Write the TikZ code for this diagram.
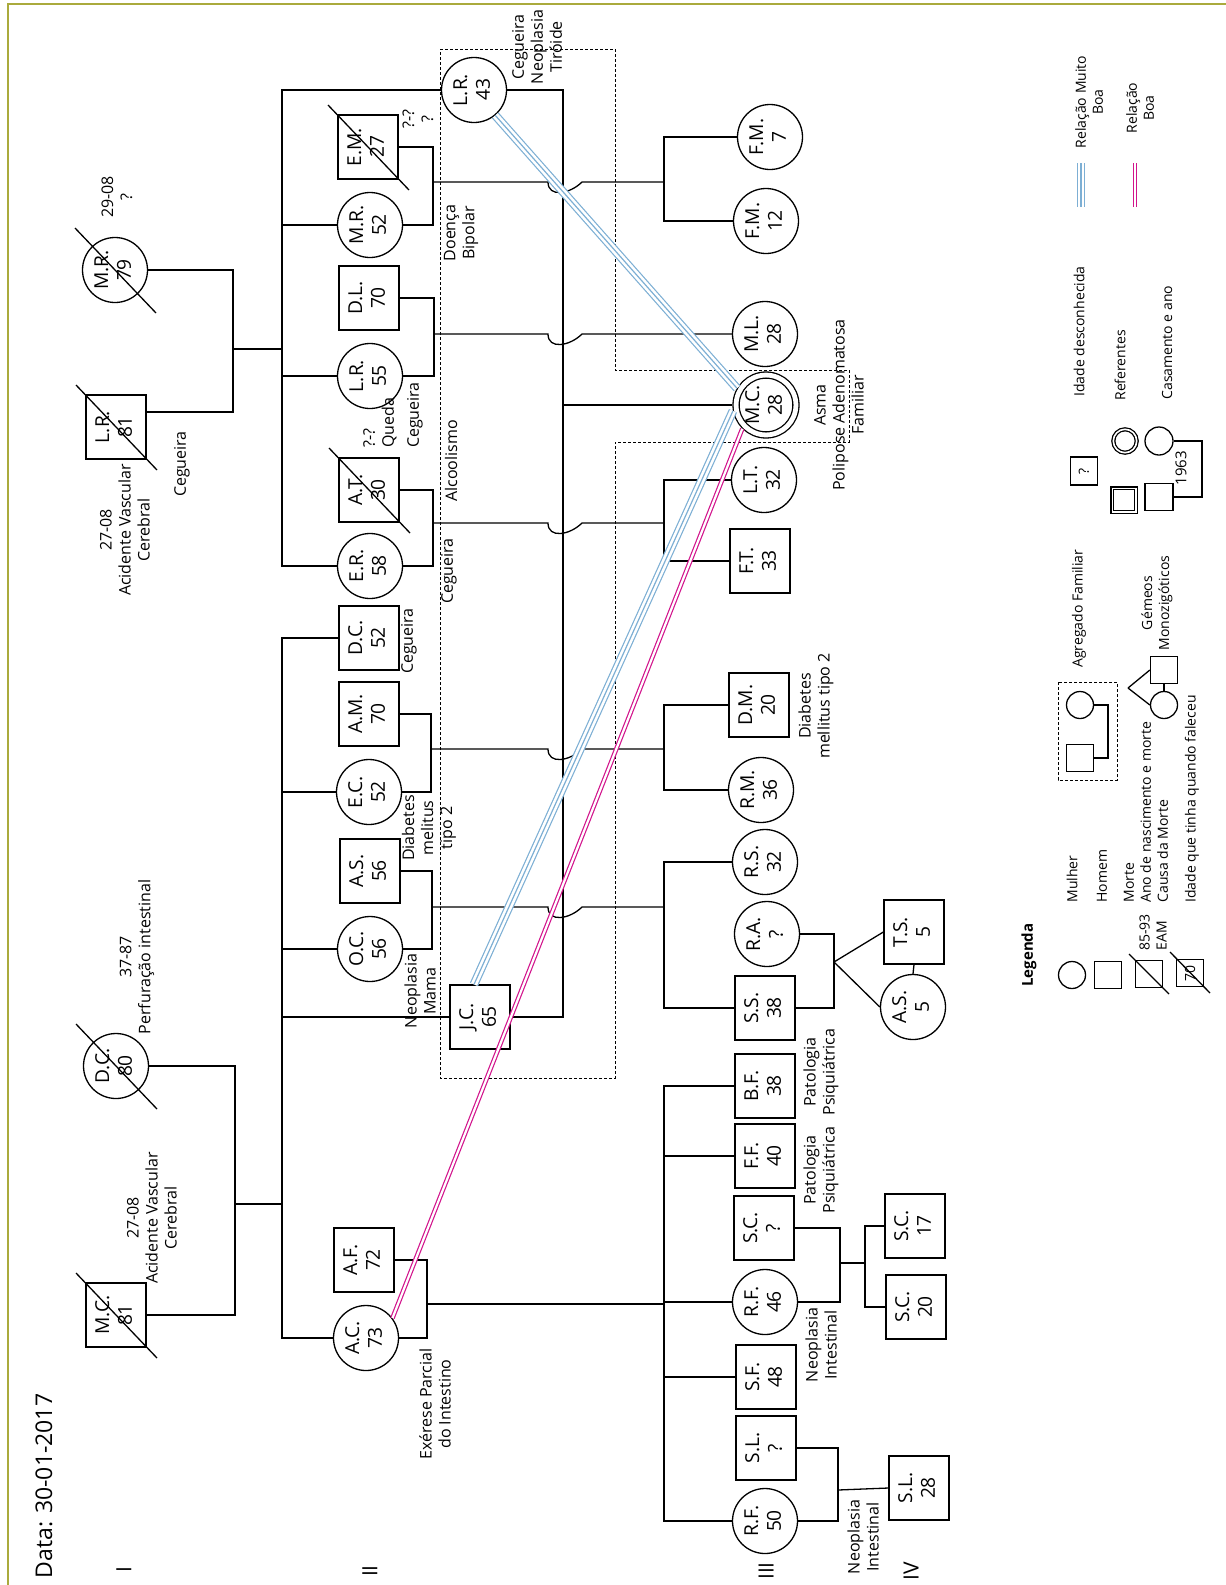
\documentclass[tikz,border=0pt]{standalone}
\usepackage{fontspec}
\setmainfont{Open Sans}
\usepackage{graphicx}
\definecolor{moldura}{RGB}{170,170,60}
\definecolor{azulrel}{RGB}{125,175,212}
\definecolor{rosarel}{RGB}{210,20,140}
\newcommand{\pessoa}[2]{\rotatebox{90}{\begin{tabular}{@{}c@{}}#1\\#2\end{tabular}}}
\newcommand{\falecido}[1]{\draw[linha] (#1.center) ++(-40,-42) -- ++(81,85);}

\begin{document}
\begin{tikzpicture}[x=0.5pt, y=-0.5pt,
    linha/.style={line width=0.65pt},
    mulher/.style={circle, draw, line width=0.65pt, minimum size=32.5pt, inner sep=0pt,
      font=\fontsize{9.6}{11.4}\selectfont},
    homem/.style={rectangle, draw, line width=0.65pt, minimum width=30pt, minimum height=32pt,
      inner sep=0pt, font=\fontsize{9.6}{11.4}\selectfont},
    referente/.style={mulher, double, double distance=2.4pt, minimum size=29pt, outer sep=1.8pt},
    nota/.style={rotate=90, align=center, inner sep=0pt, font=\fontsize{8}{9.5}\selectfont},
    legtxt/.style={rotate=90, align=left, inner sep=0pt, font=\fontsize{7}{8.5}\selectfont},
    geracao/.style={rotate=90, inner sep=0pt, font=\fontsize{10.5}{12}\selectfont},
    agregado/.style={dash pattern=on 1.5pt off 1pt, line width=0.5pt},
    muitoboa/.style={preaction={draw=azulrel, line width=0.6pt, double=white, double distance=3.2pt},
      draw=azulrel, line width=0.6pt},
    boa/.style={draw=rosarel, line width=0.6pt, double=white, double distance=1.1pt},
    salto/.style={insert path={.. controls +(0,16) and +(-12,12) .. ++(34,0)}}]
  \useasboundingbox (0,0) rectangle (1226,1585);
  \draw[moldura, line width=1pt] (8,1585) -- (8,4) -- (1226,4);

  % geracao I
  \node[mulher] (MR79) at (115,270) {\pessoa{M.R.}{79}};
  \node[homem] (LR81) at (116,427) {\pessoa{L.R.}{81}};
  \node[mulher] (DC80) at (116,1066) {\pessoa{D.C.}{80}};
  \node[homem] (MC81) at (116,1315) {\pessoa{M.C.}{81}};
  % geracao II
  \node[mulher] (LR43) at (474,90) {\pessoa{L.R.}{43}};
  \node[homem] (EM27) at (368,147) {\pessoa{E.M.}{27}};
  \node[mulher] (MR52) at (370,225) {\pessoa{M.R.}{52}};
  \node[homem] (DL70) at (369,298) {\pessoa{D.L.}{70}};
  \node[mulher] (LR55) at (370,376) {\pessoa{L.R.}{55}};
  \node[homem] (AT30) at (369,490) {\pessoa{A.T.}{30}};
  \node[mulher] (ER58) at (370,566) {\pessoa{E.R.}{58}};
  \node[homem] (DC52) at (369,638) {\pessoa{D.C.}{52}};
  \node[homem] (AM70) at (369,714) {\pessoa{A.M.}{70}};
  \node[mulher] (EC52) at (369,792) {\pessoa{E.C.}{52}};
  \node[homem] (AS56) at (370,871) {\pessoa{A.S.}{56}};
  \node[mulher] (OC56) at (370,949) {\pessoa{O.C.}{56}};
  \node[homem] (JC65) at (480,1017) {\pessoa{J.C.}{65}};
  \node[homem] (AF72) at (364,1260) {\pessoa{A.F.}{72}};
  \node[mulher] (AC73) at (366,1338) {\pessoa{A.C.}{73}};
  % geracao III
  \node[mulher] (FM7) at (770,137) {\pessoa{F.M.}{7}};
  \node[mulher] (FM12) at (766,221) {\pessoa{F.M.}{12}};
  \node[mulher] (ML28) at (765,334) {\pessoa{M.L.}{28}};
  \node[referente] (MC28) at (766,405) {\pessoa{M.C.}{28}};
  \node[mulher] (LT32) at (764,480) {\pessoa{L.T.}{32}};
  \node[homem] (FT33) at (760,561) {\pessoa{F.T.}{33}};
  \node[homem] (DM20) at (759,705) {\pessoa{D.M.}{20}};
  \node[mulher] (RM36) at (761,790) {\pessoa{R.M.}{36}};
  \node[mulher] (RS32) at (765,862) {\pessoa{R.S.}{32}};
  \node[mulher] (RAq) at (767,934) {\pessoa{R.A.}{?}};
  \node[homem] (SS38) at (765,1008) {\pessoa{S.S.}{38}};
  \node[homem] (BF38) at (765,1086) {\pessoa{B.F.}{38}};
  \node[homem] (FF40) at (765,1156) {\pessoa{F.F.}{40}};
  \node[homem] (SCq) at (764,1228) {\pessoa{S.C.}{?}};
  \node[mulher] (RF46) at (765,1302) {\pessoa{R.F.}{46}};
  \node[homem] (SF48) at (766,1377) {\pessoa{S.F.}{48}};
  \node[homem] (SLq) at (766,1448) {\pessoa{S.L.}{?}};
  \node[mulher] (RF50) at (765,1521) {\pessoa{R.F.}{50}};
  % geracao IV
  \node[homem] (TS5) at (914,932) {\pessoa{T.S.}{5}};
  \node[mulher] (AS5) at (913,1007) {\pessoa{A.S.}{5}};
  \node[homem] (SC17) at (915,1226) {\pessoa{S.C.}{17}};
  \node[homem] (SC20) at (916,1307) {\pessoa{S.C.}{20}};
  \node[homem] (SL28) at (919,1488) {\pessoa{S.L.}{28}};

  \falecido{MR79} \falecido{LR81} \falecido{DC80}
  \falecido{MC81} \falecido{EM27} \falecido{AT30}

  \coordinate (cpI1) at (233,349);
  \coordinate (cpI2) at (235,1204);
  \coordinate (irm2) at (282,0);
  \coordinate (irm3) at (664,0);
  \coordinate (irm4) at (865,0);
  \coordinate (xsalto) at (548,0);
  \coordinate (cpEM) at (433,182);
  \coordinate (cpDL) at (434,334);
  \coordinate (cpAT) at (433,523);
  \coordinate (cpAM) at (431,749);
  \coordinate (cpAS) at (432,907);
  \coordinate (cpAF) at (427,1304);
  \coordinate (cpLJ) at (563,405);
  \coordinate (cpRA) at (834,962);
  \coordinate (cpSC) at (840,1263);
  \coordinate (cpSL) at (838,1490);

  % casais e filhos
  \draw[linha] (MR79.east) -| (cpI1) |- ([yshift=7.5pt]LR81.east);
  \draw[linha] (cpI1) -- (irm2 |- cpI1);
  \draw[linha] (LR43.west) -| (irm2 |- ER58.west) -- (ER58.west);
  \draw[linha] (MR52.west) -- (irm2 |- MR52.west);
  \draw[linha] (LR55.west) -- (irm2 |- LR55.west);
  \draw[linha] (DC80.east) -| (cpI2) |- (MC81.east);
  \draw[linha] (cpI2) -- (irm2 |- cpI2);
  \draw[linha] (DC52.west) -| (irm2 |- AC73.west) -- (AC73.west);
  \draw[linha] (EC52.west) -- (irm2 |- EC52.west);
  \draw[linha] (OC56.west) -- (irm2 |- OC56.west);
  \draw[linha] (JC65.west) -- (irm2 |- JC65.west);

  \draw[linha] (EM27.east) -| (cpEM) |- (MR52.east);
  \draw[linha] (cpEM) -- (xsalto |- cpEM) [salto] -- (irm3 |- cpEM);
  \draw[linha] (FM7.west) -| (irm3 |- FM12.west) -- (FM12.west);
  \draw[linha] (DL70.east) -| (cpDL) |- (LR55.east);
  \draw[linha] (cpDL) -- (xsalto |- cpDL) [salto] -- (ML28.west);
  \draw[linha] (AT30.east) -| (cpAT) |- (ER58.east);
  \draw[linha] (cpAT) -- (xsalto |- cpAT) [salto] -- (irm3 |- cpAT);
  \draw[linha] (LT32.west) -| (irm3 |- FT33.west) -- (FT33.west);
  \draw[linha] (AM70.east) -| (cpAM) |- (EC52.east);
  \draw[linha] (cpAM) -- (xsalto |- cpAM) [salto] -- (irm3 |- cpAM);
  \draw[linha] (DM20.west) -| (irm3 |- RM36.west) -- (RM36.west);
  \draw[linha] (AS56.east) -| (cpAS) |- (OC56.east);
  \draw[linha] (cpAS) -- (xsalto |- cpAS) [salto] -- (irm3 |- cpAS);
  \draw[linha] (RS32.west) -| (irm3 |- SS38.west) -- (SS38.west);
  \draw[linha] (AF72.east) -| (cpAF) |- (AC73.east);
  \draw[linha] (cpAF) -- (irm3 |- cpAF);
  \draw[linha] (BF38.west) -| (irm3 |- RF50.west) -- (RF50.west);
  \draw[linha] (FF40.west) -- (irm3 |- FF40.west);
  \draw[linha] (RF46.west) -- (irm3 |- RF46.west);
  \draw[linha] (SF48.west) -- (irm3 |- SF48.west);
  \draw[linha] (LR43.east) -| (cpLJ) |- (JC65.east);
  \draw[linha] (cpLJ) -- (MC28.west);

  \draw[linha] (RAq.east) -| (cpRA) |- (SS38.east);
  \draw[linha] (cpRA) -- (TS5.west);
  \draw[linha] (cpRA) -- (AS5.west);
  \draw[linha] (TS5.south) -- (AS5.north);
  \draw[linha] (SCq.east) -| (cpSC) |- (RF46.east);
  \draw[linha] (cpSC) -- (irm4 |- cpSC);
  \draw[linha] (SC17.west) -| (irm4 |- SC20.west) -- (SC20.west);
  \draw[linha] (SLq.east) -| (cpSL) |- (RF50.east);
  \draw[linha] (cpSL) -- (SL28.west);

  % agregado familiar
  \draw[agregado] (440,49) -- (615,49) -- (615,370) -- (849,370) -- (849,442)
    -- (615,442) -- (615,1078) -- (440,1078) -- cycle;

  % relacoes
  \draw[muitoboa] (LR43.310) -- (MC28.150);
  \draw[muitoboa] ([xshift=-3pt]JC65.north) -- (MC28.190);
  \draw[boa] (AC73.37) -- (MC28.225);

  % notas
  \node[nota] (nMR79) at (117,197) {29-08\\?};
  \node[nota] (nLR81) at (125,530) {27-08\\Acidente Vascular\\Cerebral};
  \node[nota] (nLR81b) at (182,464) {Cegueira};
  \node[nota] (nDC80) at (137,957) {37-87\\Perfuração intestinal};
  \node[nota] (nMC81) at (152,1218) {27-08\\Acidente Vascular\\Cerebral};
  \node[nota] (nEM27) at (418,119) {?-?\\?};
  \node[nota] (nLR43) at (537,47) {Cegueira\\Neoplasia\\Tiróide};
  \node[nota] (nMR52) at (461,233) {Doença\\Bipolar};
  \node[nota] (nLR55) at (415,415) {Cegueira};
  \node[nota, anchor=west, align=left] (nAT30) at (380,448) {?-?\\Queda};
  \node[nota] (nAT30b) at (451,461) {Alcoolismo};
  \node[nota] (nER58) at (449,571) {Cegueira};
  \node[nota] (nDC52) at (409,641) {Cegueira};
  \node[nota] (nEC52) at (429,828) {Diabetes\\melitus\\tipo 2};
  \node[nota] (nOC56) at (420,991) {Neoplasia\\Mama};
  \node[nota] (nAC73) at (435,1404) {Exérese Parcial\\do Intestino};
  \node[nota] (nMC28) at (839,405) {Asma\\Polipose Adenomatosa\\Familiar};
  \node[nota] (nDM20) at (816,706) {Diabetes\\mellitus tipo 2};
  \node[nota] (nBF38) at (821,1072) {Patologia\\Psiquiátrica};
  \node[nota] (nFF40) at (821,1170) {Patologia\\Psiquiátrica};
  \node[nota] (nRF46) at (821,1345) {Neoplasia\\Intestinal};
  \node[nota] (nRF50) at (863,1537) {Neoplasia\\Intestinal};

  \node[nota, font=\fontsize{11.5}{13}\selectfont] (data) at (44,1486) {Data: 30-01-2017};
  \node[geracao] (gI) at (124,1570) {I};
  \node[geracao] (gII) at (370,1571) {II};
  \node[geracao] (gIII) at (766,1571) {III};
  \node[geracao] (gIV) at (911,1571) {IV};

  % legenda
  \node[legtxt, align=center] (lgMBt) at (1089,102) {Relação Muito\\Boa};
  \coordinate (lgMB1) at (1081,163);
  \coordinate (lgMB2) at (1081,207);
  \draw[muitoboa] (lgMB1) -- (lgMB2);
  \node[legtxt, align=center] (lgBt) at (1140,108) {Relação\\Boa};
  \coordinate (lgB1) at (1135,163);
  \coordinate (lgB2) at (1135,207);
  \draw[boa] (lgB1) -- (lgB2);

  \node[legtxt, anchor=west] (lgIdt) at (1079,397) {Idade desconhecida};
  \node[legtxt, anchor=west] (lgReft) at (1120,401) {Referentes};
  \node[legtxt, anchor=west] (lgCat) at (1167,400) {Casamento e ano};
  \node[homem, minimum width=13.5pt, minimum height=14pt, font=\fontsize{7}{8}\selectfont]
    (lgQ) at (1084,471) {\rotatebox{90}{?}};
  \node[mulher, double, double distance=0.8pt, minimum size=11.7pt] (lgRefM) at (1125,441) {};
  \node[homem, double, double distance=0.8pt, minimum width=11.7pt, minimum height=11.7pt]
    (lgRefH) at (1124,500) {};
  \node[mulher, minimum size=14pt] (lgCM) at (1159,441) {};
  \node[homem, minimum width=14pt, minimum height=13.5pt] (lgCH) at (1159,497) {};
  \coordinate (lgCp) at (1202,468);
  \draw[linha] (lgCM.east) -| (lgCp) |- (lgCH.east);
  \node[legtxt, font=\fontsize{7.5}{9}\selectfont] (lgAno) at (1181,468) {1963};

  \node[legtxt, anchor=west] (lgAgt) at (1079,668) {Agregado Familiar};
  \draw[agregado] (1058,682) rectangle (1117,780);
  \node[mulher, minimum size=13.5pt] (lgAM) at (1080,705) {};
  \node[homem, minimum width=13.5pt, minimum height=13.5pt] (lgAH) at (1080,758) {};
  \coordinate (lgAp) at (1108,731);
  \draw[linha] (lgAM.east) -| (lgAp) |- (lgAH.east);

  \node[legtxt, align=center] (lgGt) at (1157,603) {Gémeos\\Monozigóticos};
  \node[homem, minimum width=13.5pt, minimum height=13.5pt] (lgGH) at (1164,670) {};
  \node[mulher, minimum size=13.5pt] (lgGM) at (1164,705) {};
  \coordinate (lgGp) at (1128,688);
  \draw[linha] (lgGp) -- (lgGH.west);
  \draw[linha] (lgGp) -- (lgGM.west);
  \draw[linha] (lgGH.south) -- (lgGM.north);

  \node[legtxt, font=\bfseries\fontsize{7.5}{9}\selectfont] (lgTit) at (1029,955) {Legenda};
  \node[mulher, minimum size=13.5pt] (lgM) at (1072,975) {};
  \node[legtxt, anchor=west] (lgMt) at (1072,903) {Mulher};
  \node[homem, minimum width=13.5pt, minimum height=13.5pt] (lgH) at (1108,975) {};
  \node[legtxt, anchor=west] (lgHt) at (1102,903) {Homem};
  \node[homem, minimum width=13.5pt, minimum height=13.5pt] (lgMo) at (1149,974) {};
  \draw[linha] (lgMo.center) ++(-20,-20) -- ++(40,40);
  \node[legtxt, anchor=west] (lgMod) at (1153,951) {85-93\\EAM};
  \node[legtxt, anchor=west] (lgMot) at (1146,903) {Morte\\Ano de nascimento e morte\\Causa da Morte};
  \node[homem, minimum width=13.5pt, minimum height=13.5pt, font=\fontsize{7}{8}\selectfont]
    (lgI) at (1190,973) {\rotatebox{90}{70}};
  \draw[linha] (lgI.center) ++(-20,-21) -- ++(40,41);
  \node[legtxt, anchor=west] (lgIt) at (1192,903) {Idade que tinha quando faleceu};
\end{tikzpicture}
\end{document}
